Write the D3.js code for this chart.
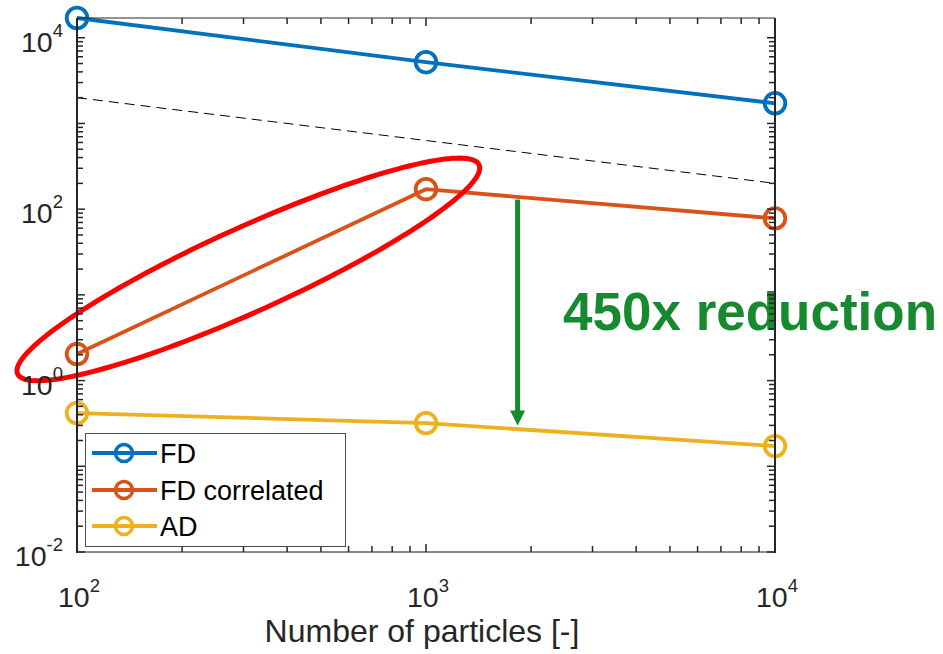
<!DOCTYPE html>
<html>
<head>
<meta charset="utf-8">
<script src="https://cdn.jsdelivr.net/npm/d3@7"></script>
<style>
  body { margin: 0; background: #fff; }
  text { font-family: "Liberation Sans", Arial, Helvetica, sans-serif; }
</style>
</head>
<body>
<svg id="chart" width="943" height="654"></svg>
<script>
// ---- data ----
const particles = [100, 1000, 10000];
const fdCost = [17000, 5180, 1720];
const fdCorrelatedCost = [2.04, 171, 78];
const adCost = [0.418, 0.319, 0.172];
const seriesNames = ["FD", "FD correlated", "AD"];
const seriesColors = ["#0072BD", "#D95319", "#EDB120"];

// 1/sqrt(N) reference line
const refLineX = [100, 10000];
const refLineY = [2000, 200];

const xTickExponents = { 100: "2", 1000: "3", 10000: "4" };
const yTickExponents = { 0.01: "-2", 1: "0", 100: "2", 10000: "4" };
const xLabel = "Number of particles [-]";

// annotation: arrow from FD correlated down to AD
const arrowX = 1830;
const arrowY = [130, 0.30];
const reductionLabel = "450x reduction";

// highlight ellipse, defined in decades (log10 units)
const ellipseCenterLog = [2.491, 1.297];
const ellipseHalfWidthDec = 0.663;   // half extent along x
const ellipseSlopeDec = 1.784;       // tilt of the conjugate diameter
const ellipseHalfHeightDec = 0.536;  // vertical half chord at centre

// ---- layout ----
const plot = { left: 77, right: 775, top: 18, bottom: 552 };
const axisColor = "#262626";

const svg = d3.select("#chart");
const x = d3.scaleLog().domain([100, 10000]).range([plot.left, plot.right]);
const y = d3.scaleLog().domain([0.01, 17000]).range([plot.bottom, plot.top]);

// annotation text sits underneath the axes box
svg.append("text")
  .attr("x", 563).attr("y", 330)
  .attr("font-size", 53).attr("font-weight", "bold")
  .attr("fill", "#178a30")
  .text(reductionLabel);

// reference dashed line
svg.append("path")
  .attr("d", d3.line().x(d => x(d[0])).y(d => y(d[1]))(refLineX.map((v, i) => [v, refLineY[i]])))
  .attr("fill", "none").attr("stroke", "#000").attr("stroke-width", 1)
  .attr("stroke-dasharray", "10,6");

// series
const allSeries = [fdCost, fdCorrelatedCost, adCost];
const line = d3.line().x(d => x(d[0])).y(d => y(d[1]));
allSeries.forEach((vals, i) => {
  const pts = particles.map((p, j) => [p, vals[j]]);
  svg.append("path").attr("d", line(pts))
    .attr("fill", "none").attr("stroke", seriesColors[i]).attr("stroke-width", 3.8);
  svg.selectAll(null).data(pts).enter().append("circle")
    .attr("cx", d => x(d[0])).attr("cy", d => y(d[1])).attr("r", 10.3)
    .attr("fill", "none").attr("stroke", seriesColors[i]).attr("stroke-width", 3.8);
});

// red highlight ellipse
const ellipsePts = d3.range(0, 361, 2).map(a => {
  const t = a * Math.PI / 180;
  const lx = ellipseCenterLog[0] + ellipseHalfWidthDec * Math.cos(t);
  const ly = ellipseCenterLog[1] + ellipseSlopeDec * ellipseHalfWidthDec * Math.cos(t) + ellipseHalfHeightDec * Math.sin(t);
  return [Math.pow(10, lx), Math.pow(10, ly)];
});
svg.append("path")
  .attr("d", d3.line().x(d => x(d[0])).y(d => y(d[1])).curve(d3.curveLinearClosed)(ellipsePts))
  .attr("fill", "none").attr("stroke", "#ff0000").attr("stroke-width", 5);

// green arrow
const ax = x(arrowX), ay0 = y(arrowY[0]), ay1 = y(arrowY[1]);
const headLen = 15, headHalf = 7.5;
svg.append("line")
  .attr("x1", ax).attr("x2", ax).attr("y1", ay0).attr("y2", ay1 - headLen + 1)
  .attr("stroke", "#178a30").attr("stroke-width", 5);
svg.append("path")
  .attr("d", `M${ax - headHalf},${ay1 - headLen} L${ax + headHalf},${ay1 - headLen} L${ax},${ay1} Z`)
  .attr("fill", "#178a30");

// axes box
const box = svg.append("g");
box.append("line").attr("x1", plot.left).attr("x2", plot.right).attr("y1", plot.top).attr("y2", plot.top)
  .attr("stroke", axisColor).attr("stroke-width", 1);
box.append("line").attr("x1", plot.left).attr("x2", plot.right).attr("y1", plot.bottom).attr("y2", plot.bottom)
  .attr("stroke", "#8a8a8a").attr("stroke-width", 2);
[plot.left, plot.right].forEach(px => {
  box.append("line").attr("x1", px).attr("x2", px).attr("y1", plot.top).attr("y2", plot.bottom + 1)
    .attr("stroke", axisColor).attr("stroke-width", 2);
});

const isMajor = v => Math.abs(Math.log10(v) - Math.round(Math.log10(v))) < 1e-9;
const majorLen = 8, minorLen = 6;

// x ticks (inward, bottom and top)
x.ticks().forEach(v => {
  const len = isMajor(v) ? majorLen : minorLen;
  const px = x(v);
  box.append("line").attr("x1", px).attr("x2", px).attr("y1", plot.bottom).attr("y2", plot.bottom - len)
    .attr("stroke", axisColor).attr("stroke-width", 1.5);
  box.append("line").attr("x1", px).attr("x2", px).attr("y1", plot.top).attr("y2", plot.top + len)
    .attr("stroke", axisColor).attr("stroke-width", 1.5);
});
// y ticks (inward, left and right)
y.ticks().filter(v => v <= y.domain()[1]).forEach(v => {
  const len = isMajor(v) ? majorLen : minorLen;
  const py = y(v);
  box.append("line").attr("x1", plot.left).attr("x2", plot.left + len).attr("y1", py).attr("y2", py)
    .attr("stroke", axisColor).attr("stroke-width", 1.5);
  box.append("line").attr("x1", plot.right).attr("x2", plot.right - len).attr("y1", py).attr("y2", py)
    .attr("stroke", axisColor).attr("stroke-width", 1.5);
});

// tick labels with superscript exponents
function powerLabel(sel, exp) {
  sel.append("tspan").text("10");
  sel.append("tspan").attr("dy", -15).attr("font-size", 18.5).text(exp);
}
Object.keys(xTickExponents).forEach(k => {
  const t = svg.append("text").attr("x", x(+k) + 2).attr("y", 607)
    .attr("text-anchor", "middle").attr("font-size", 28.5).attr("fill", axisColor);
  powerLabel(t, xTickExponents[k]);
});
Object.keys(yTickExponents).forEach(k => {
  const t = svg.append("text").attr("x", 63).attr("y", y(+k) + 14)
    .attr("text-anchor", "end").attr("font-size", 28.5).attr("fill", axisColor);
  powerLabel(t, yTickExponents[k]);
});

// x axis title
svg.append("text").attr("x", 422).attr("y", 642).attr("text-anchor", "middle")
  .attr("font-size", 32).attr("fill", axisColor).text(xLabel);

// legend
const legend = svg.append("g");
legend.append("rect").attr("x", 85.5).attr("y", 433.5).attr("width", 260).attr("height", 113)
  .attr("fill", "#fff").attr("stroke", "#4d4d4d").attr("stroke-width", 1);
const rowY = [453, 490, 526];
seriesNames.forEach((name, i) => {
  legend.append("line").attr("x1", 92).attr("x2", 157).attr("y1", rowY[i]).attr("y2", rowY[i])
    .attr("stroke", seriesColors[i]).attr("stroke-width", 3.8);
  legend.append("circle").attr("cx", 124).attr("cy", rowY[i]).attr("r", 8.5)
    .attr("fill", "none").attr("stroke", seriesColors[i]).attr("stroke-width", 3.5);
  legend.append("text").attr("x", 160).attr("y", rowY[i] + 9.5)
    .attr("font-size", 27).attr("fill", "#000").text(name);
});
</script>
</body>
</html>
